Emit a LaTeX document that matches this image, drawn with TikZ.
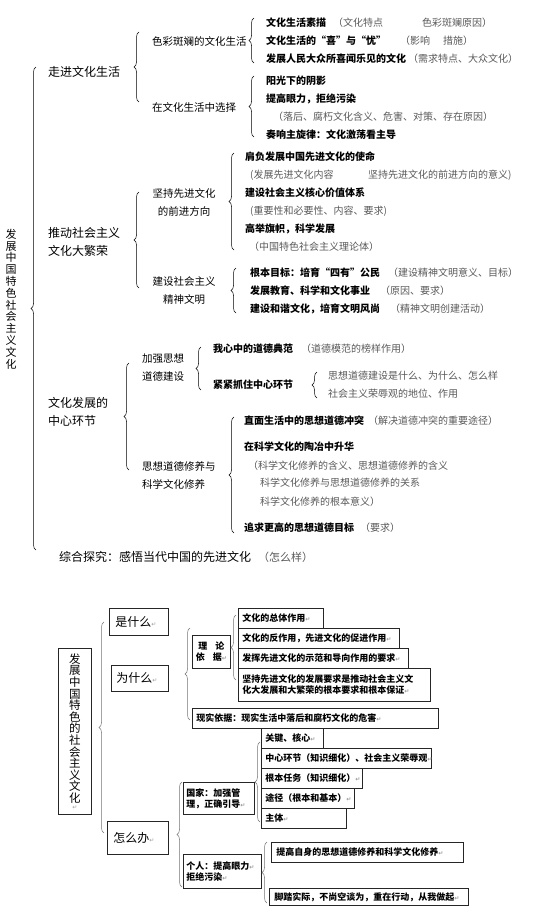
\documentclass[tikz,border=0pt]{standalone}
\usepackage{fontspec}
\setmainfont{Noto Sans CJK SC}
\newfontfamily\symfont{DejaVu Sans}
\usetikzlibrary{decorations.pathreplacing, calc}

\newcommand{\fs}[1]{\fontsize{#1}{#1}\selectfont}
\newcommand{\rmk}{{\color{black!40}\symfont\fontsize{6}{6}\selectfont ↵}}

\tikzset{
  sec/.style={anchor=west, inner sep=0pt, align=left, font=\fontsize{12}{18}\selectfont},
  sub/.style={anchor=west, inner sep=0pt, align=left, font=\fontsize{10.5}{18}\selectfont},
  item/.style={anchor=west, inner sep=0pt, font=\fs{10}\bfseries},
  note/.style={anchor=west, inner sep=0pt, text=black!65, font=\fs{10}},
  br/.style={decorate, decoration={brace, amplitude=5pt}, line width=0.5pt},
  gbr/.style={br, draw=black!55},
  box/.style={draw=black!85, line width=0.8pt, anchor=north west, inner xsep=4pt,
    inner ysep=0pt, align=left, font=\fontsize{9}{11}\selectfont\bfseries},
}

\begin{document}
\begin{tikzpicture}[x=1pt, y=-1pt]
    \useasboundingbox (0,0) rectangle (556,921);

    % Upper outline
    \node[inner sep=0pt, align=center, font=\fontsize{11}{11.8}\selectfont] (root) at (11,299)
        {发\\展\\中\\国\\特\\色\\社\\会\\主\\义\\文\\化};
    \draw[br] (36,550) -- (36,67);

    % Section 1
    \node[sec] (s1) at (48,72) {走进文化生活};
    \draw[br] (139,102) -- (139,32);
    \node[sub] (s1a) at (152,41) {色彩斑斓的文化生活};
    \node[sub] (s1b) at (152,107) {在文化生活中选择};

    \draw[br] (254,63) -- (254,18);
    \node[item] (s1a1) at (266,23) {文化生活素描};
    \node[note] (s1a1n) at (333,23) {（文化特点};
    \node[note] (s1a1m) at (422,23) {色彩斑斓原因）};
    \node[item] (s1a2) at (266,41) {文化生活的“喜”与“忧”};
    \node[note] (s1a2n) at (400,41) {（影响};
    \node[note] (s1a2m) at (443,41) {措施）};
    \node[item] (s1a3) at (266,59) {发展人民大众所喜闻乐见的文化};
    \node[note] (s1a3n) at (408,59) {（需求特点、大众文化）};

    \draw[br] (254,137) -- (254,76);
    \node[item] (s1b1) at (266,81) {阳光下的阴影};
    \node[item] (s1b2) at (266,99) {提高眼力，拒绝污染};
    \node[note] (s1b3) at (273,117) {（落后、腐朽文化含义、危害、对策、存在原因）};
    \node[item] (s1b4) at (266,135) {奏响主旋律：文化激荡看主导};

    % Section 2
    \node[sec] (s2) at (48,242) {推动社会主义\\文化大繁荣};
    \draw[br] (139,288) -- (139,192);
    \node[sub, anchor=center, align=center] (s2a) at (184,202) {坚持先进文化\\的前进方向};
    \node[sub, anchor=center, align=center] (s2b) at (184,291) {建设社会主义\\精神文明};

    \draw[br] (234,250) -- (234,153);
    \node[item] (s2a1) at (245,157) {肩负发展中国先进文化的使命};
    \node[note] (s2a1n) at (250,175) {(发展先进文化内容};
    \node[note] (s2a1m) at (368,175) {坚持先进文化的前进方向的意义)};
    \node[item] (s2a2) at (245,193) {建设社会主义核心价值体系};
    \node[note] (s2a2n) at (250,211) {(重要性和必要性、内容、要求)};
    \node[item] (s2a3) at (245,229) {高举旗帜，科学发展};
    \node[note] (s2a3n) at (249,247) {（中国特色社会主义理论体）};

    \draw[br] (236,313) -- (236,268);
    \node[item] (s2b1) at (250,273) {根本目标：培育“四有”公民};
    \node[note] (s2b1n) at (388,273) {（建设精神文明意义、目标）};
    \node[item] (s2b2) at (250,291) {发展教育、科学和文化事业};
    \node[note] (s2b2n) at (380,291) {（原因、要求）};
    \node[item] (s2b3) at (250,309) {建设和谐文化，培育文明风尚};
    \node[note] (s2b3n) at (390,309) {（精神文明创建活动）};

    % Section 3
    \node[sec] (s3) at (48,412) {文化发展的\\中心环节};
    \draw[br] (129,470) -- (129,363);
    \node[sub] (s3a) at (142,368) {加强思想\\道德建设};
    \node[sub] (s3b) at (142,475) {思想道德修养与\\科学文化修养};

    \draw[br] (201,390) -- (201,347);
    \node[item] (s3a1) at (213,349) {我心中的道德典范};
    \node[note] (s3a1n) at (301,349) {（道德模范的榜样作用）};
    \node[item] (s3a2) at (213,385) {紧紧抓住中心环节};
    \draw[br] (317,398) -- (317,372);
    \node[note] (s3a2a) at (328,376) {思想道德建设是什么、为什么、怎么样};
    \node[note] (s3a2b) at (328,394) {社会主义荣辱观的地位、作用};

    \draw[br] (234,533) -- (234,417);
    \node[item] (s3b1) at (244,421) {直面生活中的思想道德冲突};
    \node[note] (s3b1n) at (368,421) {（解决道德冲突的重要途径）};
    \node[item] (s3b2) at (244,447) {在科学文化的陶冶中升华};
    \node[note] (s3b3) at (248,466) {（科学文化修养的含义、思想道德修养的含义};
    \node[note] (s3b4) at (260,483) {科学文化修养与思想道德修养的关系};
    \node[note] (s3b5) at (260,502) {科学文化修养的根本意义）};
    \node[item] (s3b6) at (244,528) {追求更高的思想道德目标};
    \node[note] (s3b6n) at (360,528) {（要求）};

    \node[sec] (sum) at (59,557) {综合探究：感悟当代中国的先进文化};
    \node[note, font=\fs{11}] (sumn) at (258,557) {（怎么样）};

    % Lower outline with boxes
    \node[box, align=center, inner xsep=0pt, minimum width=33pt, minimum height=166pt,
        font=\fontsize{11.5}{11.6}\selectfont] (root2) at (58,648)
        {发\\展\\中\\国\\特\\色\\的\\社\\会\\主\\义\\文\\化\\[-5pt]\rmk};
    \draw[gbr] (104,833) -- (104,622);

    \node[box, font=\fs{12}, inner xsep=6pt, text width=47pt, minimum height=27pt] (q1) at (109,608) {是什么\rmk};
    \node[box, font=\fs{12}, inner xsep=5pt, text width=47pt, minimum height=26pt] (q2) at (111,665) {为什么\rmk};
    \node[box, font=\fs{12}, inner xsep=6pt, text width=49pt, minimum height=33pt] (q3) at (107,821) {怎么办\rmk};

    % why
    \draw[gbr] (190,720) -- (190,628);
    \node[box, align=center, inner xsep=0pt, minimum width=38pt, minimum height=33pt] (lb)
        at (192,635) {理\hspace{8pt}论\\依\hspace{8pt}据\rmk};
    \draw[gbr] (236,680) -- (236,615);
    \node[box, text width=77pt, minimum height=20pt] (t1) at (238,608) {文化的总体作用\rmk};
    \node[box, text width=153pt, minimum height=20pt] (t2) at (238,628) {文化的反作用，先进文化的促进作用\rmk};
    \node[box, text width=162pt, minimum height=20pt] (t3) at (238,648) {发挥先进文化的示范和导向作用的要求\rmk};
    \node[box, text width=184pt, minimum height=33pt] (t4) at (238,668)
        {坚持先进文化的发展要求是推动社会主义文\\化大发展和大繁荣的根本要求和根本保证\rmk};
    \node[box, text width=238pt, minimum height=20pt] (real) at (192,708) {现实依据：现实生活中落后和腐朽文化的危害\rmk};

    % how
    \draw[gbr] (182,887) -- (182,782);
    \node[box, inner xsep=3pt, text width=65pt, minimum height=32pt] (gj) at (183,782) {国家：加强管\\理，正确引导\rmk};
    \node[box, inner xsep=3pt, text width=72pt, minimum height=34pt] (gr) at (183,854) {个人：提高眼力\rmk\\拒绝污染\rmk};

    \draw[gbr] (260,822) -- (260,742);
    \node[box, text width=54pt, minimum height=20pt] (n1) at (261,728) {关键、核心\rmk};
    \node[box, text width=162pt, minimum height=20pt] (n2) at (261,748) {中心环节（知识细化）、社会主义荣辱观\rmk};
    \node[box, text width=93pt, minimum height=20pt] (n3) at (261,768) {根本任务（知识细化）\rmk};
    \node[box, text width=85pt, minimum height=20pt] (n4) at (261,788) {途径（根本和基本）\rmk};
    \node[box, text width=77pt, minimum height=20pt] (n5) at (261,808) {主体\rmk};

    \draw[gbr] (267,903) -- (267,842);
    \node[box, inner xsep=5pt, text width=182pt, minimum height=20pt] (p1) at (271,842) {提高自身的思想道德修养和科学文化修养\rmk};
    \node[box, inner xsep=5pt, text width=189pt, minimum height=17pt] (p2) at (269,888) {脚踏实际，不尚空谈为，重在行动，从我做起\rmk};
\end{tikzpicture}
\end{document}
